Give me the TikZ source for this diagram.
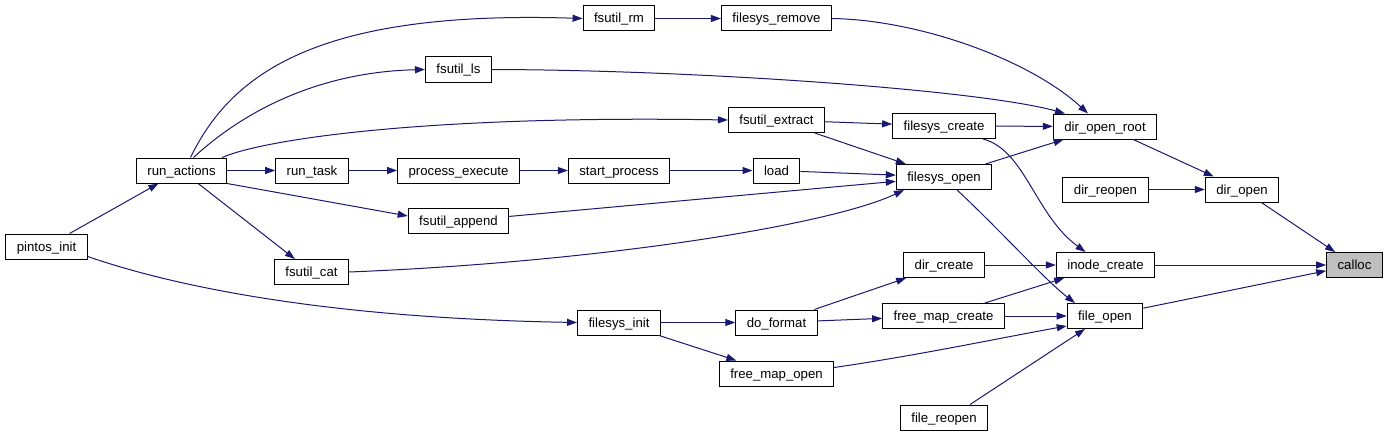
\documentclass[tikz,border=0pt]{standalone}
\usepackage{fontspec}
\setmainfont{Liberation Sans}
\usetikzlibrary{arrows.meta}
\definecolor{edgeblue}{HTML}{191970}
\definecolor{hitgray}{HTML}{BFBFBF}

\begin{document}
\begin{tikzpicture}[
    x=1pt, y=-1pt,
    >={Triangle[length=10pt,width=7pt]},
    fn/.style={
      draw=black, line width=1pt, fill=white,
      minimum height=25pt, inner xsep=11pt, inner ysep=0pt,
      text height=9pt, text depth=0pt,
      font=\fontsize{13.2}{15}\selectfont,
    },
    hit/.style={fn, fill=hitgray},
    call/.style={->, draw=edgeblue, fill=none, line width=1pt},
  ]
  \useasboundingbox (0,0) rectangle (1388,436);

  % =================== FUNCTIONS ===================
  \node[fn] (pi)   at (46.5, 246.5)  {pintos\_init};
  \node[fn] (ra)   at (181.5, 170.5) {run\_actions};
  \node[fn] (rt)   at (312, 170.5)   {run\_task};
  \node[fn] (fcat) at (311.5, 272)   {fsutil\_cat};
  \node[fn] (pe)   at (458.5, 170.5) {process\_execute};
  \node[fn] (fl)   at (458.5, 69.5)  {fsutil\_ls};
  \node[fn] (fa)   at (458.5, 221)   {fsutil\_append};
  \node[fn] (rm)   at (619, 18.5)    {fsutil\_rm};
  \node[fn] (sp)   at (619, 170.5)   {start\_process};
  \node[fn] (fi)   at (619, 322.5)   {filesys\_init};
  \node[fn] (fr)   at (776.5, 18.5)  {filesys\_remove};
  \node[fn] (fe)   at (776.5, 120)   {fsutil\_extract};
  \node[fn] (ld)   at (776.5, 170.5) {load};
  \node[fn] (df)   at (776.5, 322.5) {do\_format};
  \node[fn] (fmo)  at (776.5, 373.5) {free\_map\_open};
  \node[fn] (fc)   at (944, 126)     {filesys\_create};
  \node[fn] (fo)   at (944, 177)     {filesys\_open};
  \node[fn] (dc)   at (944, 265)     {dir\_create};
  \node[fn] (fmc)  at (943.5, 316)   {free\_map\_create};
  \node[fn] (frp)  at (944, 417.5)   {file\_reopen};
  \node[fn] (dor)  at (1105, 126.5)  {dir\_open\_root};
  \node[fn] (drp)  at (1105.5, 189.5){dir\_reopen};
  \node[fn] (ic)   at (1105.5, 265)  {inode\_create};
  \node[fn] (fop)  at (1105, 316)    {file\_open};
  \node[fn] (dop)  at (1242, 189.5)  {dir\_open};
  \node[hit] (cl)  at (1354.5, 265)  {calloc};

  % =================== CALLS ===================
  % pintos_init
  \draw[call] (pi) -- (ra);
  \draw[call] ([yshift=-10pt]pi.east) .. controls (170,285) and (320,318) .. (fi.west);

  % run_actions
  \draw[call] ([xshift=9pt]ra.north) .. controls (232,72) and (320,10) .. (rm.west);
  \draw[call] ([xshift=12pt]ra.north) .. controls (245,110) and (320,72) .. (fl.west);
  \draw[call] ([xshift=-5pt]ra.north east) .. controls (262,140) and (420,115) .. (fe.west);
  \draw[call] (ra) -- (rt);
  \draw[call] (ra.south east) -- ([yshift=5pt]fa.west);
  \draw[call] (ra) -- (fcat);

  % process chain
  \draw[call] (rt) -- (pe);
  \draw[call] (pe) -- (sp);
  \draw[call] (sp) -- (ld);
  \draw[call] (rm) -- (fr);

  % into dir_open_root
  \draw[call] (fr.east) .. controls (920,20) and (1030,60) .. ([xshift=-17pt]dor.north);
  \draw[call] (fl.east) .. controls (700,70) and (980,90) .. ([xshift=-40pt]dor.north);
  \draw[call] (fc) -- (dor);
  \draw[call] (fo) -- (dor);

  % into filesys_create / filesys_open
  \draw[call] (fe) -- (fc);
  \draw[call] (fe) -- (fo);
  \draw[call] (ld) -- (fo);
  \draw[call] (fa) -- (fo);
  \draw[call] (fcat.east) .. controls (600,262) and (830,225) .. ([xshift=-40pt]fo.south);

  % filesys_init side
  \draw[call] (fi) -- (df);
  \draw[call] (fi) -- (fmo);
  \draw[call] (df) -- (dc);
  \draw[call] (df) -- (fmc);

  % into inode_create / file_open
  \draw[call] ([xshift=39pt]fc.south) .. controls (1025,150) and (1035,215) .. ([xshift=-20pt]ic.north);
  \draw[call] ([xshift=13pt]fo.south) .. controls (995,225) and (1045,280) .. ([xshift=-30pt]fop.north);
  \draw[call] (dc) -- (ic);
  \draw[call] (fmc) -- (ic);
  \draw[call] (fmc) -- (fop);
  \draw[call] ([yshift=6pt]fmo.east) .. controls (920,355) and (1000,338) .. ([yshift=-10pt]fop.west);
  \draw[call] ([xshift=26pt]frp.north) -- ([xshift=-20pt]fop.south);

  % into dir_open / calloc
  \draw[call] (dor) -- (dop);
  \draw[call] (drp) -- (dop);
  \draw[call] (dop) -- (cl);
  \draw[call] (ic) -- (cl);
  \draw[call] (fop) -- (cl);

\end{tikzpicture}
\end{document}
